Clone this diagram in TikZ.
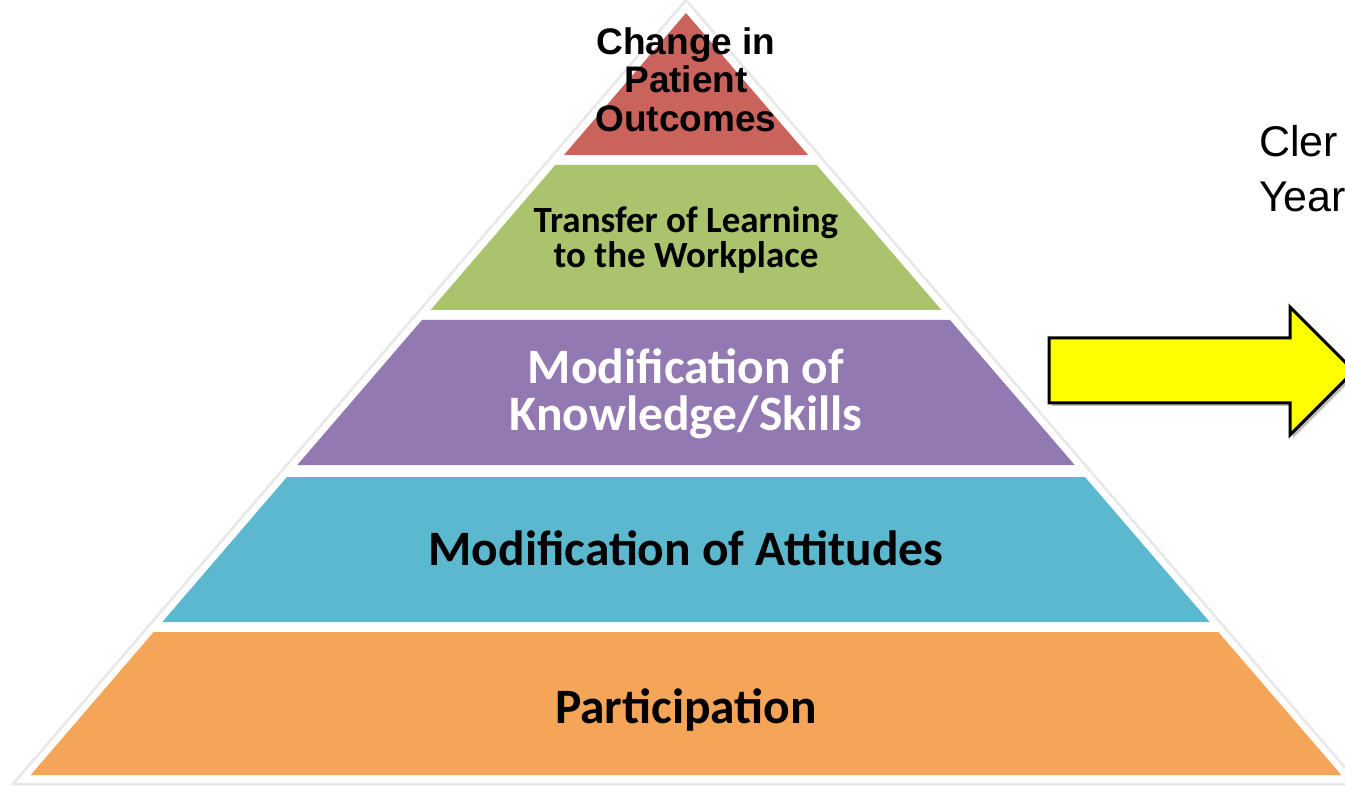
\documentclass[tikz,border=0pt]{standalone}
\usepackage{fontspec}
\setmainfont{Liberation Sans}
\newfontfamily\calib{Carlito}[BoldFont={Carlito Bold}]
\newfontfamily\arialb{Liberation Sans Bold}
\definecolor{bandred}{RGB}{203,99,93}
\definecolor{bandgreen}{RGB}{170,195,108}
\definecolor{bandpurple}{RGB}{147,121,177}
\definecolor{bandcyan}{RGB}{92,184,207}
\definecolor{bandorange}{RGB}{244,165,87}
\definecolor{arrowyellow}{RGB}{255,255,0}
\tikzset{
  band/.style={draw=none},
  lbl/.style={inner sep=0pt, anchor=base},
  toplbl/.style={lbl, font=\arialb\fontsize{37}{37}\selectfont},
  smalllbl/.style={lbl, font=\calib\bfseries\fontsize{37}{37}\selectfont},
  biglbl/.style={lbl, font=\calib\bfseries\fontsize{49.5}{49.5}\selectfont},
  sidetext/.style={inner sep=0pt, anchor=base west, font=\fontsize{43}{43}\selectfont},
}
\begin{document}
\begin{tikzpicture}[x=1pt,y=-1pt]
\useasboundingbox (0,0) rectangle (1345,786);
\fill[white] (0,0) rectangle (1345,786);
\clip (0,0) rectangle (1345,786);

% faint outline behind the pyramid
\draw[black!9, line width=2.5pt, line join=miter] (686,0) -- (13,784) -- (1359,784) -- cycle;

% pyramid bands, top to bottom
\fill[band, bandred]    (686,13) -- (808.1,155) -- (563.9,155) -- cycle;
\fill[band, bandgreen]  (555.3,165) -- (816.7,165) -- (941.4,310) -- (430.6,310) -- cycle;
\fill[band, bandpurple] (422.0,320) -- (950.0,320) -- (1074.7,465) -- (297.3,465) -- cycle;
\fill[band, bandcyan]   (287.0,477) -- (1085.0,477) -- (1209.7,622) -- (162.3,622) -- cycle;
\fill[band, bandorange] (153.7,632) -- (1218.3,632) -- (1341.3,775) -- (30.7,775) -- cycle;

% band labels
\node[toplbl] (top1) at (686,55) {Change in};
\node[toplbl] (top2) at (686,93) {Patient};
\node[toplbl] (top3) at (686,132) {Outcomes};

\node[smalllbl] (tr1) at (686,233) {Transfer of Learning};
\node[smalllbl] (tr2) at (686,268) {to the Workplace};

\node[biglbl, text=white] (mk1) at (686,384) {Modification of};
\node[biglbl, text=white] (mk2) at (686,431) {Knowledge/Skills};

\node[biglbl] (ma) at (686,565) {Modification of Attitudes};

\node[biglbl] (pa) at (686,723) {Participation};

% side text
\node[sidetext] (cl) at (1259,157) {Cler};
\node[sidetext] (yr) at (1259,212) {Year};

% block arrow with a light drop shadow
\fill[black!25] (1052,341) -- (1293,341) -- (1293,310) -- (1357,374) -- (1293,438) -- (1293,406) -- (1052,406) -- cycle;
\draw[fill=arrowyellow, line width=3pt, line join=miter]
  (1049,338) -- (1290,338) -- (1290,307) -- (1354,371) -- (1290,435) -- (1290,403) -- (1049,403) -- cycle;
\end{tikzpicture}
\end{document}
